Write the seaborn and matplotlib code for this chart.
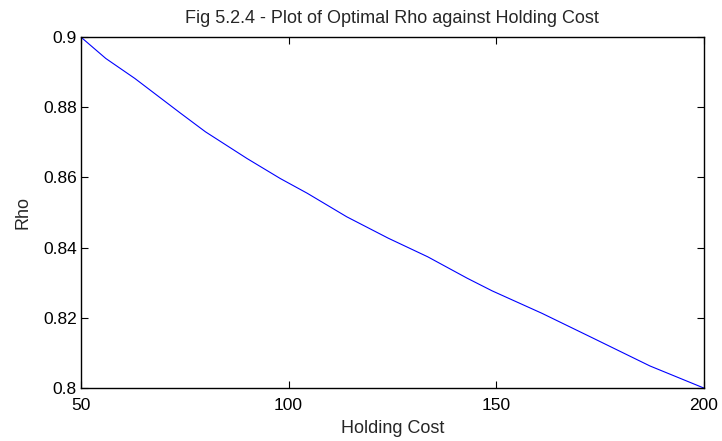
import matplotlib
matplotlib.use("Agg")
import matplotlib.pyplot as plt
import seaborn as sns
import pandas as pd

holding_cost = [50, 56, 63, 74, 80, 90, 98, 104.5, 114, 124, 133.5, 143, 149, 161, 173, 187, 200]
rho = [0.900, 0.8939, 0.8882, 0.8783, 0.8730, 0.8654, 0.8597, 0.8555, 0.8488,
       0.8427, 0.8374, 0.8313, 0.8277, 0.8213, 0.8144, 0.8063, 0.800]

sns.set_theme(style="ticks")
plt.rcParams['font.family'] = ['Liberation Sans', 'DejaVu Sans']

df = pd.DataFrame({"Holding Cost": holding_cost, "Rho": rho})

fig = plt.figure(figsize=(7.22, 4.41), dpi=100)
ax = fig.add_axes([0.112, 0.120, 0.863, 0.796])
sns.lineplot(data=df, x="Holding Cost", y="Rho", ax=ax, color="#0000ff", linewidth=0.8)

ax.set_xlim(50, 200)
ax.set_ylim(0.8, 0.9)
ax.set_xticks([50, 100, 150, 200])
ax.set_yticks([0.8, 0.82, 0.84, 0.86, 0.88, 0.9])
ax.set_yticklabels(["0.8", "0.82", "0.84", "0.86", "0.88", "0.9"])
ax.tick_params(direction="in", length=5, width=0.8, top=True, right=True,
               labelsize=12.5, colors="black", pad=3)
ax.tick_params(axis="x", pad=7)
for s in ax.spines.values():
    s.set_visible(True)
    s.set_linewidth(1.0)
    s.set_color("black")
ax.set_xlabel("Holding Cost", fontsize=13, labelpad=5)
ax.set_ylabel("Rho", fontsize=13, labelpad=8)
ax.set_title("Fig 5.2.4 - Plot of Optimal Rho against Holding Cost", fontsize=13, pad=10)

fig.savefig("out.png", dpi=100)
